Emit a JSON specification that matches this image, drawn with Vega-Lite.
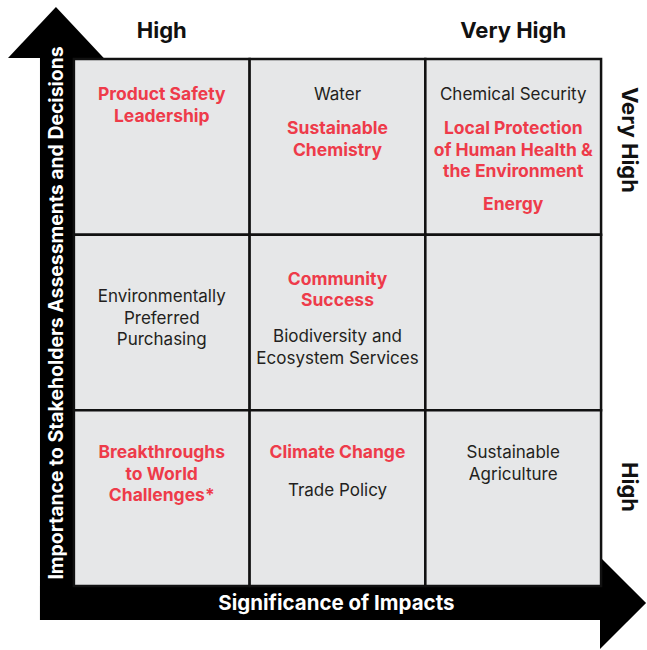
{
  "$schema": "https://vega.github.io/schema/vega-lite/v6.json",
  "width": 647,
  "height": 650,
  "autosize": {"type": "fit", "contains": "padding"},
  "padding": 0,
  "background": "white",
  "config": {"view": {"stroke": null}, "text": {"font": "Inter", "lineBreak": "\n"}},
  "datasets": {
    "bars": [
      {"bar": "vertical", "x": -0.193, "x2": 0, "y": -0.1935, "y2": 3.006},
      {"bar": "horizontal", "x": -0.193, "x2": 2.994, "y": -0.1935, "y2": 0}
    ],
    "upHead": [
      {"x": -0.375, "y": 3.006, "y2": 3.006},
      {"x": -0.102, "y": 3.296, "y2": 3.006},
      {"x": 0.170, "y": 3.006, "y2": 3.006}
    ],
    "rightHead": [
      {"y": 0.165, "x": 2.994, "x2": 2.994},
      {"y": -0.0968, "x": 3.256, "x2": 2.994},
      {"y": -0.359, "x": 2.994, "x2": 2.994}
    ],
    "cells": [
      {"impact": "High", "importance": "Very High", "x0": 0, "x1": 1, "y0": 2, "y1": 3},
      {"impact": "Medium", "importance": "Very High", "x0": 1, "x1": 2, "y0": 2, "y1": 3},
      {"impact": "Very High", "importance": "Very High", "x0": 2, "x1": 3, "y0": 2, "y1": 3},
      {"impact": "High", "importance": "Medium", "x0": 0, "x1": 1, "y0": 1, "y1": 2},
      {"impact": "Medium", "importance": "Medium", "x0": 1, "x1": 2, "y0": 1, "y1": 2},
      {"impact": "Very High", "importance": "Medium", "x0": 2, "x1": 3, "y0": 1, "y1": 2},
      {"impact": "High", "importance": "High", "x0": 0, "x1": 1, "y0": 0, "y1": 1},
      {"impact": "Medium", "importance": "High", "x0": 1, "x1": 2, "y0": 0, "y1": 1},
      {"impact": "Very High", "importance": "High", "x0": 2, "x1": 3, "y0": 0, "y1": 1}
    ],
    "issues": [
      {"label": "Product Safety\nLeadership", "kind": "priority", "x": 0.5, "y": 2.795},
      {"label": "Water", "kind": "other", "x": 1.5, "y": 2.795},
      {"label": "Sustainable\nChemistry", "kind": "priority", "x": 1.5, "y": 2.601},
      {"label": "Chemical Security", "kind": "other", "x": 2.5, "y": 2.795},
      {"label": "Local Protection\nof Human Health &\nthe Environment", "kind": "priority", "x": 2.5, "y": 2.601},
      {"label": "Energy", "kind": "priority", "x": 2.5, "y": 2.169},
      {"label": "Environmentally\nPreferred\nPurchasing", "kind": "other", "x": 0.5, "y": 1.645},
      {"label": "Community\nSuccess", "kind": "priority", "x": 1.5, "y": 1.742},
      {"label": "Biodiversity and\nEcosystem Services", "kind": "other", "x": 1.5, "y": 1.417},
      {"label": "Breakthroughs\nto World\nChallenges*", "kind": "priority", "x": 0.5, "y": 0.757},
      {"label": "Climate Change", "kind": "priority", "x": 1.5, "y": 0.757},
      {"label": "Trade Policy", "kind": "other", "x": 1.5, "y": 0.541},
      {"label": "Sustainable\nAgriculture", "kind": "other", "x": 2.5, "y": 0.757}
    ],
    "levels": [
      {"label": "High", "axis": "impact", "x": 0.5, "y": 3.159},
      {"label": "Very High", "axis": "impact", "x": 2.5, "y": 3.159},
      {"label": "Very High", "axis": "importance", "x": 3.159, "y": 2.539},
      {"label": "High", "axis": "importance", "x": 3.159, "y": 0.5636}
    ],
    "titles": [
      {"label": "Significance of Impacts", "axis": "impact", "x": 1.494, "y": -0.1025},
      {"label": "Importance to Stakeholders Assessments and Decisions", "axis": "importance", "x": -0.0966, "y": 1.554}
    ]
  },
  "encoding": {
    "x": {"type": "quantitative", "scale": {"domain": [-0.4205, 3.2557], "nice": false, "zero": false}, "axis": null},
    "y": {"type": "quantitative", "scale": {"domain": [-0.3643, 3.3358], "nice": false, "zero": false}, "axis": null}
  },
  "layer": [
    {
      "data": {"name": "bars"},
      "mark": {"type": "rect", "color": "black"},
      "encoding": {
        "x": {"field": "x", "type": "quantitative"},
        "x2": {"field": "x2"},
        "y": {"field": "y", "type": "quantitative"},
        "y2": {"field": "y2"}
      }
    },
    {
      "data": {"name": "upHead"},
      "mark": {"type": "area", "color": "black", "orient": "vertical"},
      "encoding": {
        "x": {"field": "x", "type": "quantitative"},
        "y": {"field": "y", "type": "quantitative"},
        "y2": {"field": "y2"}
      }
    },
    {
      "data": {"name": "rightHead"},
      "mark": {"type": "area", "color": "black", "orient": "horizontal"},
      "encoding": {
        "y": {"field": "y", "type": "quantitative"},
        "x": {"field": "x", "type": "quantitative"},
        "x2": {"field": "x2"}
      }
    },
    {
      "data": {"name": "cells"},
      "mark": {"type": "rect", "fill": "#e6e7e8", "stroke": "#111111", "strokeWidth": 2.5},
      "encoding": {
        "x": {"field": "x0", "type": "quantitative"},
        "x2": {"field": "x1"},
        "y": {"field": "y0", "type": "quantitative"},
        "y2": {"field": "y1"}
      }
    },
    {
      "data": {"name": "issues"},
      "transform": [{"filter": "datum.kind === 'priority'"}],
      "mark": {"type": "text", "fontSize": 17.5, "fontWeight": "bold", "color": "#ee3b4a", "baseline": "middle", "align": "center", "lineHeight": 21.5},
      "encoding": {
        "x": {"field": "x", "type": "quantitative"},
        "y": {"field": "y", "type": "quantitative"},
        "text": {"field": "label"}
      }
    },
    {
      "data": {"name": "issues"},
      "transform": [{"filter": "datum.kind === 'other'"}],
      "mark": {"type": "text", "fontSize": 17, "fontWeight": "normal", "color": "#231f20", "baseline": "middle", "align": "center", "lineHeight": 21.5},
      "encoding": {
        "x": {"field": "x", "type": "quantitative"},
        "y": {"field": "y", "type": "quantitative"},
        "text": {"field": "label"}
      }
    },
    {
      "data": {"name": "levels"},
      "transform": [{"filter": "datum.axis === 'impact'"}],
      "mark": {"type": "text", "fontSize": 22, "fontWeight": "bold", "color": "#111111", "baseline": "middle", "align": "center"},
      "encoding": {
        "x": {"field": "x", "type": "quantitative"},
        "y": {"field": "y", "type": "quantitative"},
        "text": {"field": "label"}
      }
    },
    {
      "data": {"name": "levels"},
      "transform": [{"filter": "datum.axis === 'importance'"}],
      "mark": {"type": "text", "fontSize": 22, "fontWeight": "bold", "color": "#111111", "baseline": "middle", "align": "center", "angle": 90},
      "encoding": {
        "x": {"field": "x", "type": "quantitative"},
        "y": {"field": "y", "type": "quantitative"},
        "text": {"field": "label"}
      }
    },
    {
      "data": {"name": "titles"},
      "transform": [{"filter": "datum.axis === 'impact'"}],
      "mark": {"type": "text", "fontSize": 20.5, "fontWeight": "bold", "color": "white", "baseline": "middle", "align": "center"},
      "encoding": {
        "x": {"field": "x", "type": "quantitative"},
        "y": {"field": "y", "type": "quantitative"},
        "text": {"field": "label"}
      }
    },
    {
      "data": {"name": "titles"},
      "transform": [{"filter": "datum.axis === 'importance'"}],
      "mark": {"type": "text", "fontSize": 19.4, "fontWeight": "bold", "color": "white", "baseline": "middle", "align": "center", "angle": 270},
      "encoding": {
        "x": {"field": "x", "type": "quantitative"},
        "y": {"field": "y", "type": "quantitative"},
        "text": {"field": "label"}
      }
    }
  ]
}
